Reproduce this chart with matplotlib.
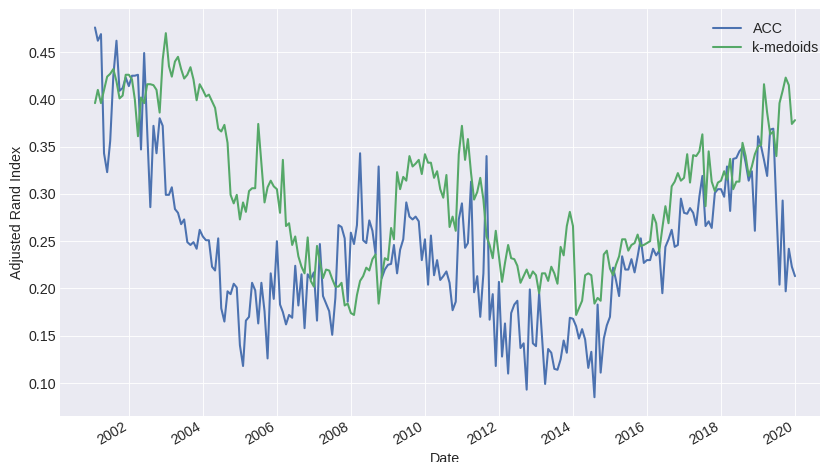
import matplotlib
matplotlib.use('Agg')
import matplotlib.pyplot as plt
import matplotlib.dates as mdates
import pandas as pd

# monthly series, month-end dates Jan 2001 .. Dec 2019
dates = pd.date_range('2001-01-31', periods=228, freq='ME')

acc = [
    0.476, 0.462, 0.469, 0.343, 0.323, 0.356, 0.425, 0.462, 0.409, 0.412,
    0.423, 0.414, 0.425, 0.425, 0.426, 0.347, 0.449, 0.367, 0.286, 0.372,
    0.343, 0.380, 0.372, 0.299, 0.299, 0.307, 0.284, 0.280, 0.268, 0.273,
    0.249, 0.246, 0.249, 0.242, 0.262, 0.255, 0.251, 0.251, 0.223, 0.219,
    0.253, 0.179, 0.165, 0.197, 0.194, 0.205, 0.201, 0.140, 0.118, 0.166,
    0.170, 0.206, 0.198, 0.163, 0.206, 0.176, 0.126, 0.216, 0.189, 0.250,
    0.183, 0.175, 0.162, 0.172, 0.169, 0.224, 0.182, 0.215, 0.158, 0.215,
    0.210, 0.217, 0.166, 0.247, 0.192, 0.184, 0.176, 0.151, 0.190, 0.267,
    0.265, 0.253, 0.186, 0.259, 0.247, 0.267, 0.343, 0.251, 0.248, 0.272,
    0.261, 0.236, 0.329, 0.211, 0.220, 0.225, 0.226, 0.246, 0.216, 0.241,
    0.252, 0.291, 0.276, 0.273, 0.276, 0.271, 0.230, 0.252, 0.204, 0.256,
    0.214, 0.230, 0.209, 0.213, 0.218, 0.206, 0.177, 0.186, 0.273, 0.290,
    0.243, 0.248, 0.313, 0.196, 0.213, 0.170, 0.216, 0.340, 0.167, 0.194,
    0.118, 0.207, 0.128, 0.163, 0.110, 0.174, 0.183, 0.187, 0.137, 0.142,
    0.093, 0.199, 0.142, 0.139, 0.195, 0.150, 0.099, 0.136, 0.132, 0.115,
    0.114, 0.125, 0.145, 0.132, 0.169, 0.168, 0.160, 0.147, 0.157, 0.146,
    0.116, 0.133, 0.085, 0.183, 0.111, 0.147, 0.161, 0.170, 0.222, 0.209,
    0.192, 0.234, 0.220, 0.220, 0.231, 0.217, 0.234, 0.253, 0.227, 0.230,
    0.230, 0.242, 0.235, 0.240, 0.195, 0.244, 0.252, 0.262, 0.244, 0.246,
    0.295, 0.280, 0.279, 0.285, 0.280, 0.267, 0.297, 0.319, 0.266, 0.271,
    0.264, 0.301, 0.305, 0.305, 0.297, 0.329, 0.282, 0.337, 0.338, 0.345,
    0.349, 0.333, 0.314, 0.324, 0.261, 0.361, 0.350, 0.336, 0.319, 0.368,
    0.369, 0.286, 0.204, 0.293, 0.197, 0.242, 0.223, 0.213,
]

kmedoids = [
    0.396, 0.410, 0.396, 0.410, 0.424, 0.427, 0.432, 0.419, 0.401, 0.404,
    0.426, 0.426, 0.421, 0.400, 0.361, 0.402, 0.396, 0.416, 0.416, 0.415,
    0.410, 0.386, 0.442, 0.470, 0.435, 0.424, 0.440, 0.445, 0.432, 0.422,
    0.426, 0.434, 0.421, 0.399, 0.416, 0.410, 0.403, 0.405, 0.398, 0.391,
    0.369, 0.366, 0.373, 0.354, 0.299, 0.290, 0.299, 0.273, 0.291, 0.281,
    0.303, 0.306, 0.306, 0.374, 0.333, 0.291, 0.307, 0.314, 0.308, 0.305,
    0.280, 0.336, 0.266, 0.269, 0.246, 0.255, 0.234, 0.223, 0.216, 0.254,
    0.208, 0.202, 0.245, 0.229, 0.211, 0.220, 0.219, 0.210, 0.202, 0.202,
    0.206, 0.182, 0.184, 0.174, 0.172, 0.193, 0.208, 0.213, 0.222, 0.219,
    0.231, 0.236, 0.184, 0.213, 0.232, 0.230, 0.264, 0.252, 0.323, 0.305,
    0.318, 0.314, 0.340, 0.329, 0.332, 0.336, 0.321, 0.342, 0.333, 0.333,
    0.317, 0.324, 0.305, 0.296, 0.320, 0.265, 0.276, 0.261, 0.342, 0.372,
    0.336, 0.358, 0.322, 0.294, 0.302, 0.317, 0.294, 0.255, 0.246, 0.232,
    0.261, 0.234, 0.207, 0.227, 0.246, 0.232, 0.231, 0.224, 0.206, 0.213,
    0.220, 0.211, 0.218, 0.214, 0.195, 0.216, 0.216, 0.208, 0.223, 0.216,
    0.205, 0.244, 0.235, 0.266, 0.281, 0.266, 0.172, 0.179, 0.187, 0.214,
    0.216, 0.214, 0.184, 0.190, 0.187, 0.236, 0.240, 0.221, 0.214, 0.225,
    0.234, 0.252, 0.252, 0.240, 0.246, 0.248, 0.257, 0.245, 0.246, 0.248,
    0.250, 0.278, 0.269, 0.239, 0.264, 0.287, 0.269, 0.308, 0.313, 0.322,
    0.314, 0.317, 0.342, 0.312, 0.341, 0.340, 0.345, 0.363, 0.287, 0.345,
    0.313, 0.303, 0.312, 0.314, 0.324, 0.315, 0.337, 0.305, 0.313, 0.313,
    0.354, 0.340, 0.319, 0.329, 0.342, 0.350, 0.352, 0.416, 0.386, 0.363,
    0.366, 0.340, 0.396, 0.409, 0.423, 0.415, 0.374, 0.378,
]

plt.style.use('seaborn-v0_8-darkgrid')
plt.rcParams.update({
    'font.size': 12.8,
    'axes.labelsize': 12.8,
    'xtick.labelsize': 12.8,
    'ytick.labelsize': 12.8,
    'legend.fontsize': 12.8,
    'lines.linewidth': 1.85,
})

fig = plt.figure(figsize=(10.25, 5.775), dpi=80)
# axes runs a little past the right edge of the figure, like the reference
ax = fig.add_axes([60 / 820, 46.3 / 462, 770 / 820, 406.7 / 462])

ax.plot(dates, acc, color='#4C72B0', label='ACC')
ax.plot(dates, kmedoids, color='#55A868', label='k-medoids')

ax.xaxis.set_major_locator(mdates.YearLocator(2))
ax.xaxis.set_major_formatter(mdates.DateFormatter('%Y'))
for lbl in ax.get_xticklabels():
    lbl.set_rotation(30)
    lbl.set_ha('right')

ax.set_xlabel('Date')
ax.set_ylabel('Adjusted Rand Index')
ax.legend(loc='upper right', labelspacing=0.35, bbox_to_anchor=(1.002, 1.0))

fig.savefig('out.png', dpi=80)
